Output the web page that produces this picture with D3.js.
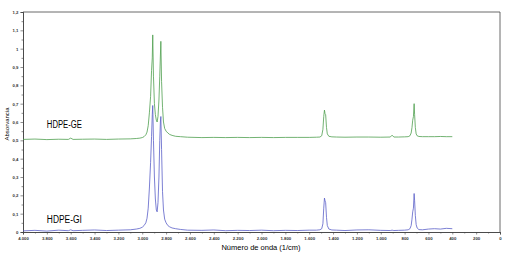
<!DOCTYPE html>
<html lang="es">
<head>
    <meta charset="UTF-8">
    <script src="https://d3js.org/d3.v7.min.js"></script>
    <title>Espectro FTIR HDPE</title>
    <style>
      body { margin: 0; background: #fff; }
      text { font-family: "Liberation Sans", Arial, sans-serif; }
    </style>
</head>
<body>
    <script>
    // numero de onda (1/cm), comun a las dos curvas
    var wavenumbers = [4000, 3900, 3800, 3700, 3620, 3600, 3580, 3500, 3400, 3300, 3200, 3100, 3050, 3020,
        3000, 2985, 2970, 2960, 2950, 2940, 2930, 2922, 2916, 2912, 2906, 2898, 2890, 2882, 2875, 2868,
        2860, 2853, 2848, 2844, 2838, 2830, 2822, 2812, 2800, 2785, 2770, 2750, 2720, 2680, 2620, 2500,
        2400, 2300, 2200, 2100, 2000, 1900, 1800, 1700, 1600, 1540, 1510, 1495, 1485, 1478, 1472, 1467,
        1462, 1455, 1448, 1435, 1410, 1370, 1300, 1200, 1100, 1000, 920, 905, 890, 850, 800, 770, 755,
        745, 738, 732, 726, 720, 716, 710, 703, 695, 680, 650, 600, 550, 500, 450, 400]

    var absGE = [0.505, 0.507, 0.504, 0.506, 0.505, 0.512, 0.505, 0.506, 0.507, 0.505, 0.507, 0.508, 0.51, 0.512,
        0.515, 0.52, 0.53, 0.545, 0.58, 0.65, 0.74, 0.88, 0.95, 1.075, 0.85, 0.70, 0.64, 0.61, 0.60, 0.63,
        0.72, 0.85, 0.96, 1.04, 0.82, 0.68, 0.60, 0.565, 0.55, 0.54, 0.532, 0.527, 0.522, 0.52, 0.517, 0.515,
        0.516, 0.515, 0.516, 0.515, 0.516, 0.515, 0.516, 0.516, 0.516, 0.517, 0.518, 0.525, 0.56, 0.63, 0.665, 0.645,
        0.64, 0.57, 0.535, 0.522, 0.519, 0.518, 0.517, 0.518, 0.518, 0.517, 0.518, 0.528, 0.518, 0.518, 0.519, 0.52, 0.525,
        0.54, 0.57, 0.61, 0.63, 0.70, 0.64, 0.57, 0.535, 0.525, 0.521, 0.52, 0.52, 0.52, 0.521, 0.52, 0.52]

    var absGI = [0.006, 0.009, 0.005, 0.010, 0.007, 0.012, 0.007, 0.009, 0.011, 0.008, 0.010, 0.012, 0.016, 0.020,
        0.026, 0.035, 0.050, 0.075, 0.13, 0.24, 0.38, 0.52, 0.64, 0.69, 0.50, 0.30, 0.18, 0.12, 0.11, 0.16,
        0.30, 0.50, 0.60, 0.63, 0.45, 0.22, 0.12, 0.07, 0.05, 0.035, 0.028, 0.022, 0.018, 0.014, 0.010, 0.009,
        0.011, 0.007, 0.009, 0.008, 0.010, 0.007, 0.009, 0.008, 0.010, 0.010, 0.012, 0.018, 0.045, 0.13, 0.185, 0.17,
        0.16, 0.08, 0.035, 0.016, 0.011, 0.010, 0.008, 0.011, 0.012, 0.009, 0.008, 0.010, 0.008, 0.009, 0.010, 0.012, 0.018,
        0.035, 0.07, 0.11, 0.13, 0.21, 0.17, 0.09, 0.04, 0.022, 0.013, 0.012, 0.016, 0.018, 0.016, 0.020, 0.018]

    var xTicks = d3.range(0, 4001, 200)
    var yTicks = d3.range(0, 13).map(function (i) { return i / 10 })
    var seriesNames = ["HDPE-GE", "HDPE-GI"]
    var seriesColors = ["#4f9f4f", "#5a5fc8"]

    var margin = { top: 12, right: 16, bottom: 27, left: 23 },
        width = 516 - margin.left - margin.right,
        height = 259 - margin.top - margin.bottom;

    var es = d3.formatLocale({ decimal: ",", thousands: ".", grouping: [3], currency: ["", ""] })

    var svg = d3.select("body").append("svg")
        .attr("width", width + margin.left + margin.right)
        .attr("height", height + margin.top + margin.bottom)
        .append("g")
        .attr("transform", "translate(" + margin.left + "," + margin.top + ")");

    var x = d3.scaleLinear().domain([4000, 0]).range([0, width]);
    var y = d3.scaleLinear().domain([0, 1.2]).range([height, 0]);

    // marco superior y derecho
    svg.append("path")
        .attr("d", "M0,0H" + width + "V" + height)
        .attr("fill", "none")
        .attr("stroke", "#444")
        .attr("stroke-width", 0.8)

    // ticks menores
    var xMinor = svg.append("g")
        .attr("transform", "translate(0," + height + ")")
        .call(d3.axisBottom(x).tickValues(d3.range(100, 4000, 200)).tickSize(1.5).tickFormat(""))
    var yMinor = svg.append("g")
        .call(d3.axisLeft(y).tickValues(d3.range(0, 12).map(function (i) { return i / 10 + 0.05 })).tickSize(1.5).tickFormat(""))

    var xAxis = svg.append("g")
        .attr("transform", "translate(0," + height + ")")
        .call(d3.axisBottom(x).tickValues(xTicks).tickSize(2.5).tickPadding(2).tickFormat(es.format(",d")))
    var yAxis = svg.append("g")
        .call(d3.axisLeft(y).tickValues(yTicks).tickSize(2.5).tickPadding(2).tickFormat(es.format("~g")))

    svg.selectAll(".domain").attr("stroke", "#444").attr("stroke-width", 0.8)
    svg.selectAll(".tick line").attr("stroke", "#444").attr("stroke-width", 0.6)
    svg.selectAll(".tick text").style("font-size", "4.3px").style("font-weight", "bold").attr("fill", "#333")

    var line = d3.line()
        .x(function (d) { return x(d[0]) })
        .y(function (d) { return y(d[1]) })

    ;[absGE, absGI].forEach(function (vals, i) {
        svg.append("path")
            .datum(wavenumbers.map(function (w, j) { return [w, vals[j]] }))
            .attr("fill", "none")
            .attr("stroke", seriesColors[i])
            .attr("stroke-width", 0.8)
            .attr("d", line)
    })

    // etiquetas de las curvas
    svg.append("text")
        .attr("x", x(3800)).attr("y", y(0.565))
        .attr("textLength", 35).attr("lengthAdjust", "spacingAndGlyphs")
        .style("font-size", "10px")
        .text(seriesNames[0])
    svg.append("text")
        .attr("x", x(3800)).attr("y", y(0.05))
        .attr("textLength", 35).attr("lengthAdjust", "spacingAndGlyphs")
        .style("font-size", "10px")
        .text(seriesNames[1])

    // titulos de ejes
    svg.append("text")
        .attr("x", 238).attr("y", height + 17.5)
        .attr("text-anchor", "middle")
        .style("font-size", "7.5px")
        .text("Número de onda (1/cm)")
    svg.append("text")
        .attr("transform", "translate(-14," + 112 + ") rotate(-90)")
        .attr("text-anchor", "middle")
        .style("font-size", "6px")
        .text("Absorvancia")
    </script>
</body>
</html>
